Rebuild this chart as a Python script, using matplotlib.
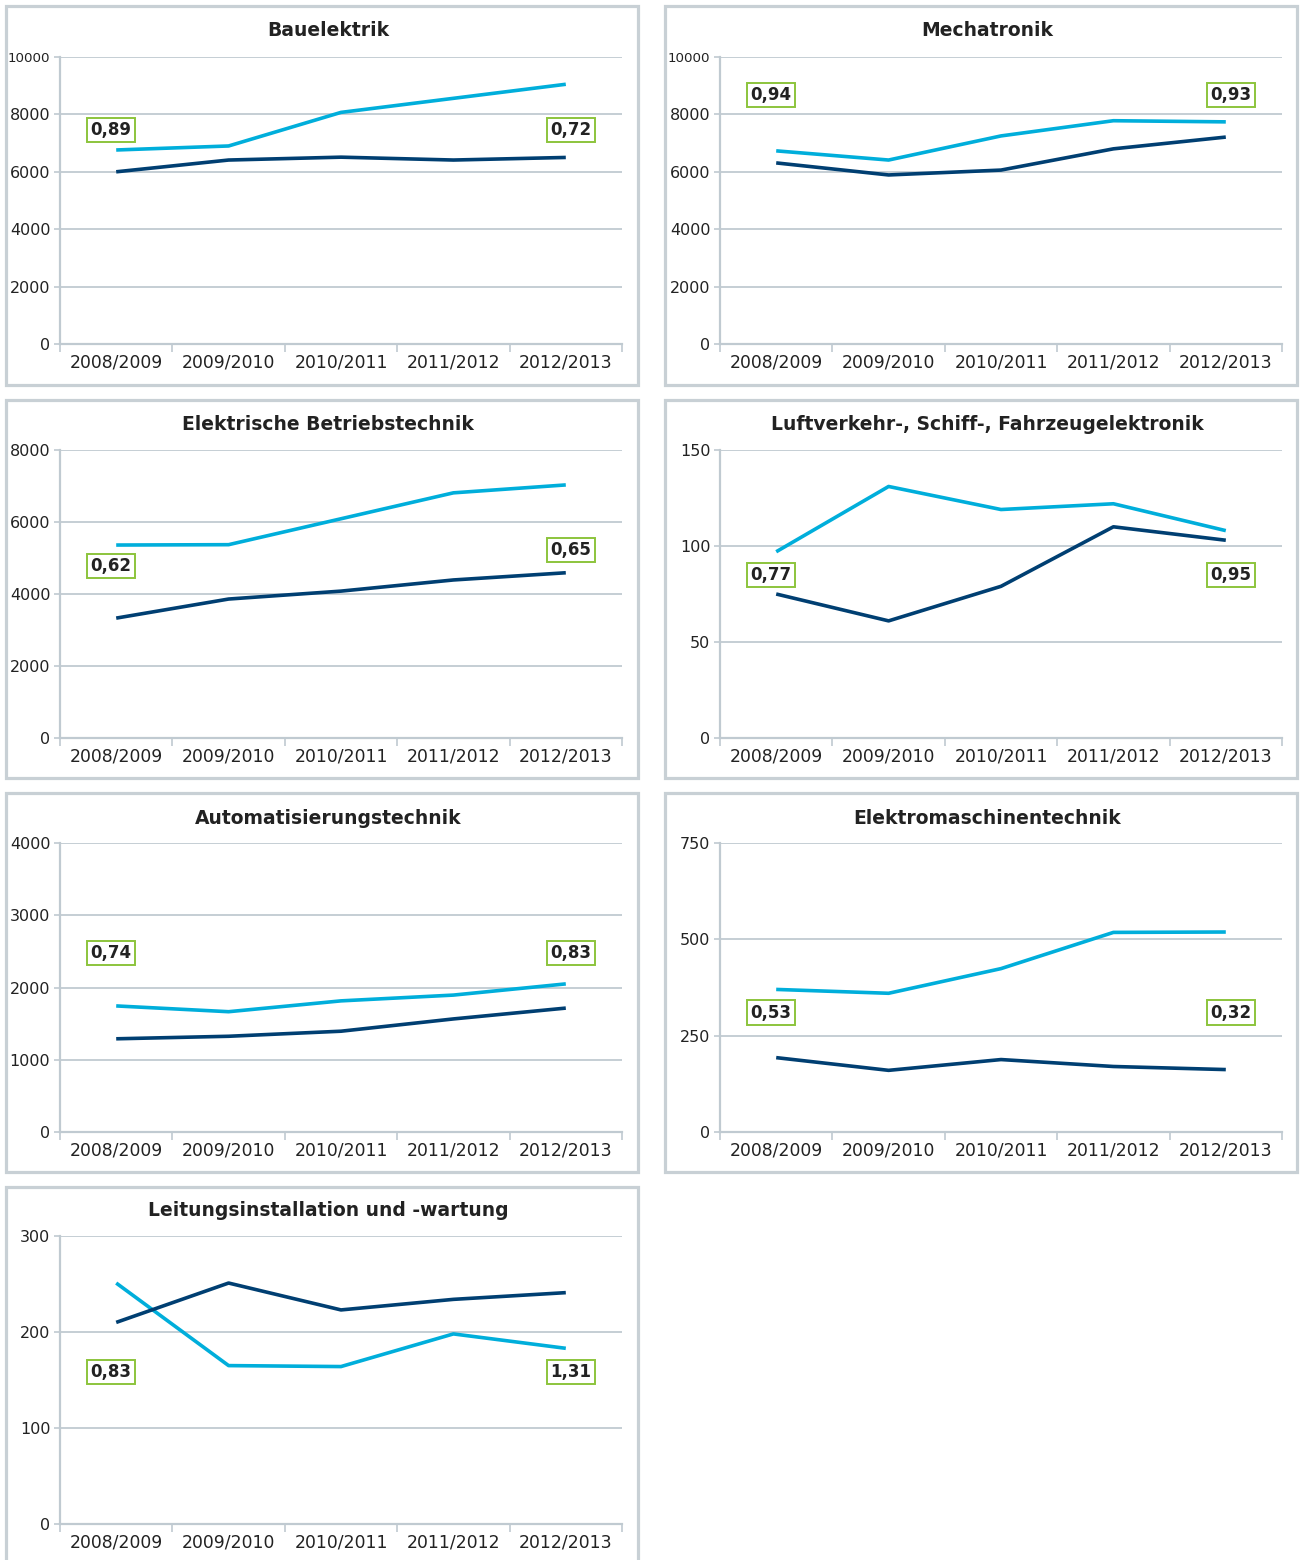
import matplotlib
matplotlib.use("Agg")
import matplotlib.pyplot as plt
from matplotlib.patches import Rectangle
from matplotlib.ticker import FixedLocator

# ---------------- data ----------------
years = ["2008/2009", "2009/2010", "2010/2011", "2011/2012", "2012/2013"]

titles = ["Bauelektrik", "Mechatronik", "Elektrische Betriebstechnik",
          "Luftverkehr-, Schiff-, Fahrzeugelektronik", "Automatisierungstechnik",
          "Elektromaschinentechnik", "Leitungsinstallation und -wartung"]

light_bauelektrik = [6760, 6900, 8070, 8560, 9050]
dark_bauelektrik = [6000, 6410, 6510, 6410, 6500]
light_mechatronik = [6730, 6410, 7250, 7780, 7740]
dark_mechatronik = [6310, 5890, 6060, 6800, 7210]
light_betrieb = [5360, 5370, 6090, 6810, 7030]
dark_betrieb = [3330, 3860, 4080, 4390, 4590]
light_luft = [97, 131, 119, 122, 108]
dark_luft = [75, 61, 79, 110, 103]
light_auto = [1745, 1665, 1815, 1895, 2050]
dark_auto = [1290, 1325, 1395, 1565, 1715]
light_emasch = [370, 360, 424, 518, 519]
dark_emasch = [193, 160, 188, 170, 162]
light_leitung = [251, 165, 164, 198, 183]
dark_leitung = [210, 251, 223, 234, 241]

ratio_first = ["0,89", "0,94", "0,62", "0,77", "0,74", "0,53", "0,83"]
ratio_last = ["0,72", "0,93", "0,65", "0,95", "0,83", "0,32", "1,31"]

yticks_list = [[0, 2000, 4000, 6000, 8000, 10000],
               [0, 2000, 4000, 6000, 8000, 10000],
               [0, 2000, 4000, 6000, 8000],
               [0, 50, 100, 150],
               [0, 1000, 2000, 3000, 4000],
               [0, 250, 500, 750],
               [0, 100, 200, 300]]

lights = [light_bauelektrik, light_mechatronik, light_betrieb, light_luft,
          light_auto, light_emasch, light_leitung]
darks = [dark_bauelektrik, dark_mechatronik, dark_betrieb, dark_luft,
         dark_auto, dark_emasch, dark_leitung]

# ---------------- style ----------------
W, H = 1300, 1560
LIGHT = "#00aedb"
DARK = "#003f72"
GRID = "#c0cad1"
FRAME = "#c8d0d5"
BOXEDGE = "#8cc43c"
TXT = "#222222"

plt.rcParams["font.family"] = ["DejaVu Sans"]

fig = plt.figure(figsize=(W / 100, H / 100), dpi=100)
fig.patch.set_facecolor("white")

col_axes_x = [60, 720]
col_frames = [(6, 638), (665, 1297)]
row_axes = [(57, 344), (450, 738), (843, 1132), (1236, 1524)]
row_frames = [(6, 385), (400, 778), (793, 1172), (1187, 1566)]
title_y = [31, 425, 818, 1211]
label_yfrac = [0.746, 0.868, 0.597, 0.566, 0.619, 0.413, 0.528]
label_yfrac_last = [0.746, 0.868, 0.653, 0.566, 0.619, 0.413, 0.528]

for i in range(7):
    r, c = divmod(i, 2)
    # frame
    fx0, fx1 = col_frames[c]
    fy0, fy1 = row_frames[r]
    fig.patches.append(Rectangle((fx0 / W, 1 - fy1 / H), (fx1 - fx0) / W, (fy1 - fy0) / H,
                                 transform=fig.transFigure, fill=False,
                                 edgecolor=FRAME, linewidth=2.3, zorder=0))
    ay0, ay1 = row_axes[r]
    ax = fig.add_axes([col_axes_x[c] / W, 1 - ay1 / H, 562 / W, (ay1 - ay0) / H])
    x = list(range(len(years)))
    ax.plot(x, lights[i], color=LIGHT, lw=2.6, solid_capstyle="butt", zorder=3)
    ax.plot(x, darks[i], color=DARK, lw=2.6, solid_capstyle="butt", zorder=3)
    yt = yticks_list[i]
    ax.set_xlim(-0.5, 4.5)
    ax.set_ylim(0, yt[-1])
    ax.set_yticks(yt)
    ax.set_yticklabels([str(v) for v in yt])
    for lab in ax.get_yticklabels():
        lab.set_fontsize(11.5)
        lab.set_color(TXT)
        if lab.get_text() == "10000":
            lab.set_fontsize(9.6)
    ax.set_xticks(x)
    ax.set_xticklabels(years, fontsize=12.4, color=TXT)
    ax.xaxis.set_minor_locator(FixedLocator([k - 0.5 for k in range(6)]))
    ax.tick_params(axis="x", which="major", length=0, pad=7)
    ax.tick_params(axis="x", which="minor", length=6, color=GRID, width=1.2)
    ax.tick_params(axis="y", length=4, color=GRID, width=1.2, pad=3)
    ax.grid(axis="y", color=GRID, lw=1.3, zorder=1)
    for s in ["top", "right"]:
        ax.spines[s].set_visible(False)
    for s in ["left", "bottom"]:
        ax.spines[s].set_color(GRID)
        ax.spines[s].set_linewidth(1.6)
    ax.set_facecolor("none")
    ax.set_axisbelow(True)
    bbox = dict(boxstyle="square,pad=0.2", facecolor="white", edgecolor=BOXEDGE, linewidth=1.4)
    ax.text(0.091, label_yfrac[i], ratio_first[i], transform=ax.transAxes, ha="center",
            va="center", fontsize=12, fontweight="bold", color=TXT, bbox=bbox, zorder=5)
    ax.text(0.909, label_yfrac_last[i], ratio_last[i], transform=ax.transAxes, ha="center",
            va="center", fontsize=12, fontweight="bold", color=TXT, bbox=bbox, zorder=5)
    # title
    tx = (fx0 + fx1) / 2 + 6
    fig.text(tx / W, 1 - title_y[r] / H, titles[i], ha="center", va="center",
             fontsize=13.5, fontweight="bold", color=TXT)

fig.savefig("out.png", dpi=100, facecolor="white")
